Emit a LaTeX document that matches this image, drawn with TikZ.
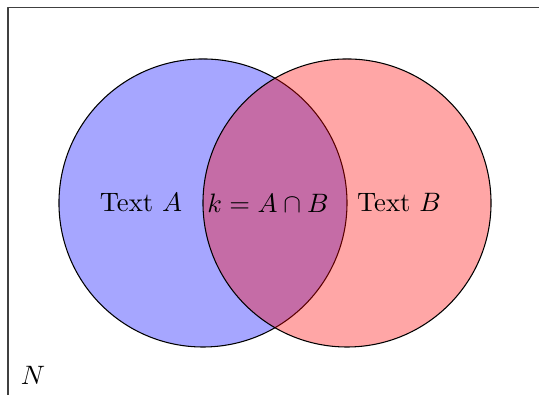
\documentclass[tikz,border=0pt]{standalone}
\begin{document}
\begin{tikzpicture}[line cap=round,line join=round]
\path[use as bounding box] (-2.678,-2.533) rectangle (4.433,2.678);
\clip (-2.678,-2.533) rectangle (4.433,2.678);
\draw[line width=0.5pt,black!75] (-2.573,-3.0000) rectangle (5.0000,2.580);
\draw[fill=blue,fill opacity=0.35] (0.0000,0.0000) circle[radius=1.9];
\draw[fill=red,fill opacity=0.35] (1.9000,0.0000) circle[radius=1.9];
\node (textA) at (-0.818,0.0000) {Text $A$};
\node (meet) at (0.858,0.0000) {$k = A\cap B$};
\node (textB) at (2.586,0.0000) {Text $B$};
\node (univ) at (-2.243,-2.269) {$N$};
\end{tikzpicture}
\end{document}
